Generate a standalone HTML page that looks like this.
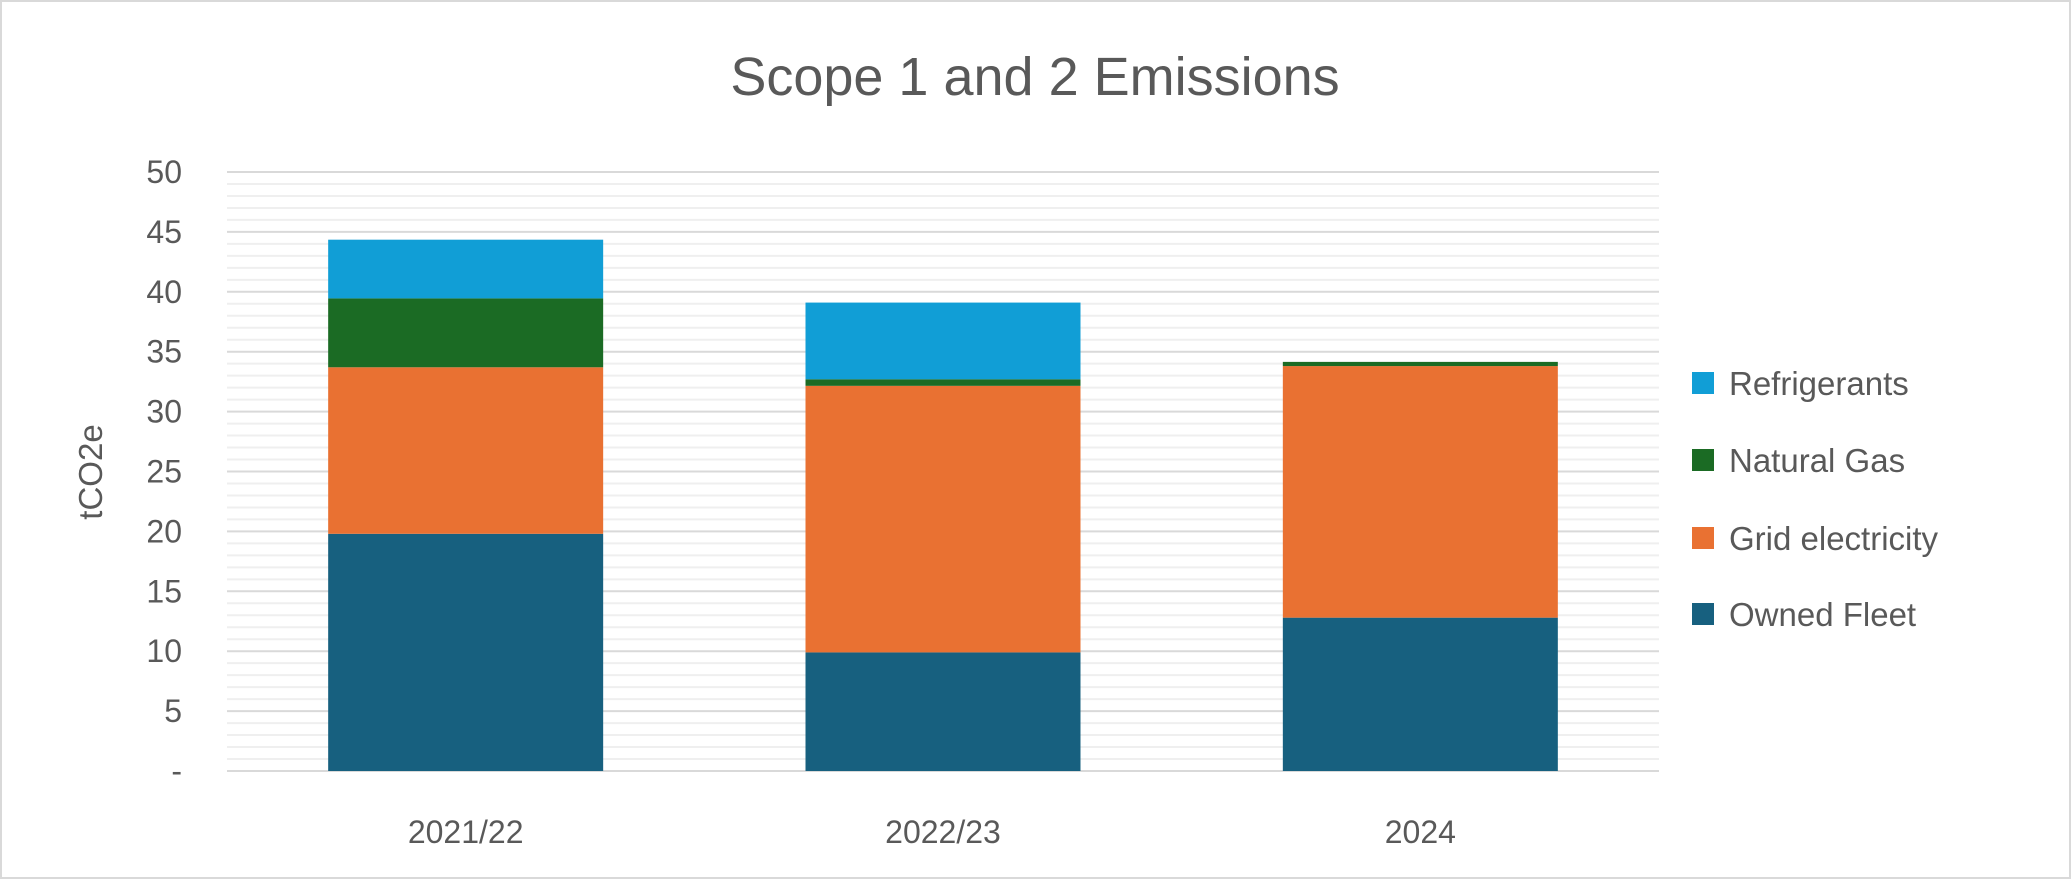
<!DOCTYPE html>
<html><head><meta charset="utf-8"><style>
html,body{margin:0;padding:0;background:#fff;}
svg{display:block;font-family:"Liberation Sans",sans-serif;}
</style></head><body>
<svg id="chart" width="2071" height="879" viewBox="0 0 2071 879">
<rect x="1" y="1" width="2069" height="877" fill="#fff" stroke="#d9d9d9" stroke-width="2"/>
<text x="1035" y="95" text-anchor="middle" font-size="54" fill="#595959">Scope 1 and 2 Emissions</text>
<g id="grid"></g>
<g id="bars"></g>
<g id="yticks"></g>
<g id="xticks"></g>
<text transform="translate(102,472) rotate(-90)" text-anchor="middle" font-size="33" fill="#595959">tCO2e</text>
<g id="legend"></g>
</svg>
<script>
const categories = ["2021/22","2022/23","2024"];
const seriesNames = ["Owned Fleet","Grid electricity","Natural Gas","Refrigerants"];
const ownedFleet = [19.8, 9.9, 12.8];
const gridElectricity = [13.9, 22.25, 21.0];
const naturalGas = [5.75, 0.55, 0.35];
const refrigerants = [4.9, 6.4, 0];
const yTickLabels = ["-","5","10","15","20","25","30","35","40","45","50"];
const yMax = 50;

const colors = ["#17607f","#e97132","#1b6b24","#119ed6"];
const series = [ownedFleet, gridElectricity, naturalGas, refrigerants];
const NS = "http://www.w3.org/2000/svg";
const L = 227, R = 1659, Y0 = 771, Y50 = 172;
const y = v => Y0 - (v / yMax) * (Y0 - Y50);
const catW = (R - L) / categories.length;
const x = i => L + catW * (i + 0.5);
const barW = 275;
function mk(tag, attrs, parent){const e=document.createElementNS(NS,tag);for(const k in attrs)e.setAttribute(k,attrs[k]);parent.appendChild(e);return e;}

const grid = document.getElementById('grid');
for (let v = 0; v <= yMax; v += 1) {
  if (v % 5 === 0) continue;
  const ln = mk('line',{x1:L,x2:R,y1:y(v),y2:y(v),stroke:'#efefef','stroke-width':2},grid);
  
  
}
for (let i = 0; i < yTickLabels.length; i++) {
  const v = i * 5;
  const ln = mk('line',{x1:L,x2:R,y1:y(v),y2:y(v),stroke:'#d9d9d9','stroke-width':2},grid);
  
  
  const t = mk('text',{x:182,y:y(v)+11,'text-anchor':'end','font-size':32,fill:'#595959'},document.getElementById('yticks'));
  t.textContent = yTickLabels[i];
  
  
}
const bars = document.getElementById('bars');
categories.forEach((c, i) => {
  let base = 0;
  series.forEach((s, k) => {
    const v = s[i];
    if (v > 0) {
      const r = mk('rect',{x:x(i)-barW/2,y:y(base+v),width:barW,height:y(base)-y(base+v),fill:colors[k]},bars);
      
      
    }
    base += v;
  });
  const t = mk('text',{x:x(i),y:843,'text-anchor':'middle','font-size':32,fill:'#595959'},document.getElementById('xticks'));
  t.textContent = c;
  
  
});
const legend = document.getElementById('legend');
const legendY = [614, 538, 460, 383];
seriesNames.forEach((n, k) => {
  const g = mk('g',{},legend);
  
  
  mk('rect',{x:1692,y:legendY[k]-11,width:22,height:22,fill:colors[k]},g);
  const t = mk('text',{x:1729,y:legendY[k]+12,'font-size':33,fill:'#595959'},g);
  t.textContent = n;
});
</script>
</body></html>
